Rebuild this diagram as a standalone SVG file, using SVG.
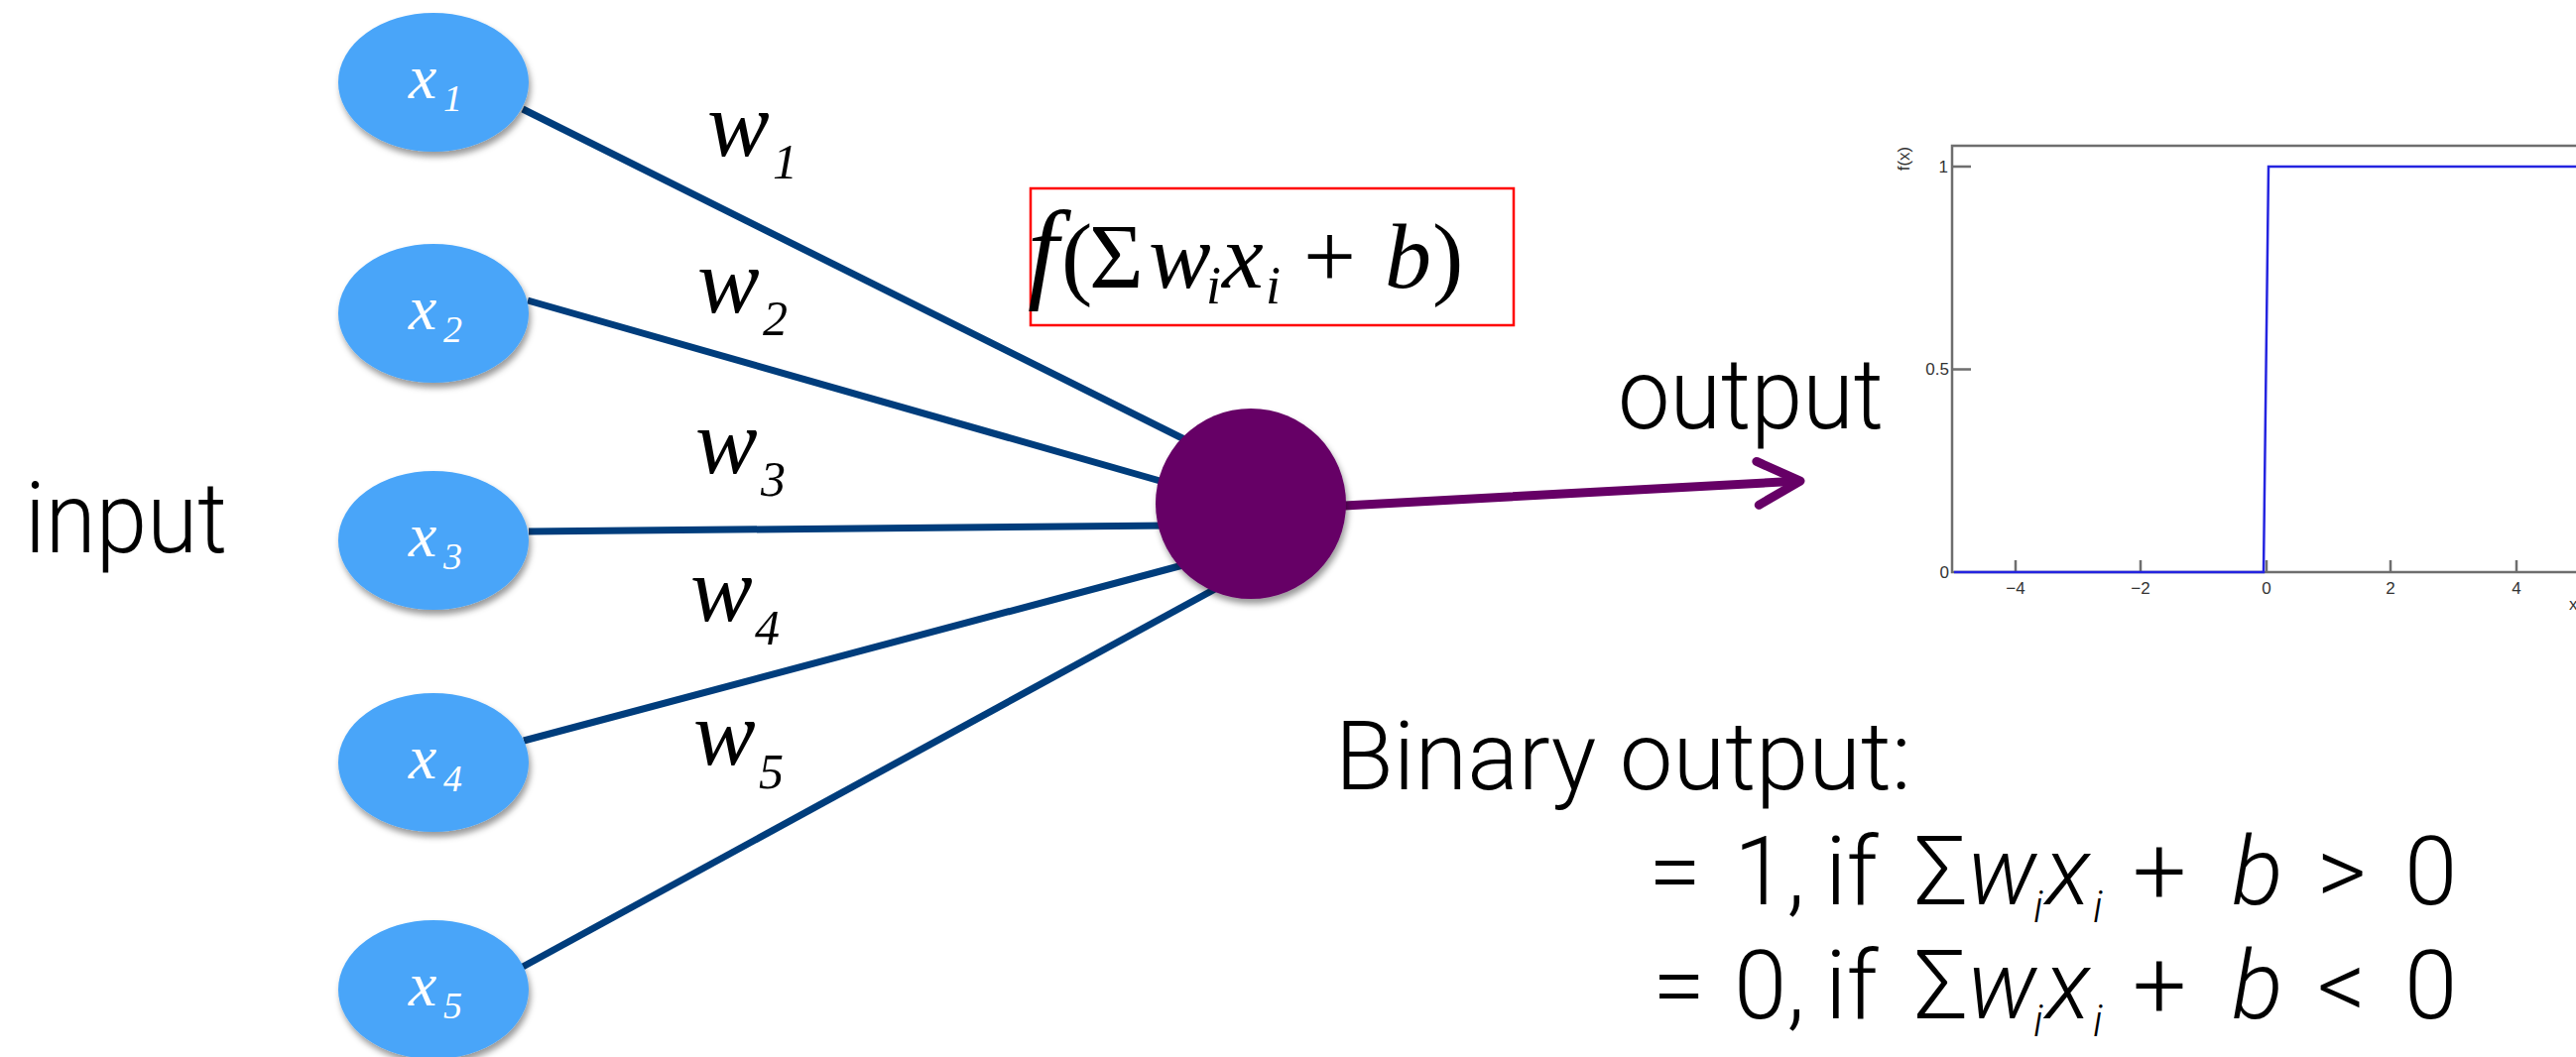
<svg xmlns="http://www.w3.org/2000/svg" width="2597" height="1066" viewBox="0 0 2597 1066">
<style>
.in{fill:#49a5f9;filter:url(#sh)}
.nl{font-family:"Liberation Serif",serif;font-style:italic;fill:#fff;font-size:64px}
.nl .s{font-size:38px}
.w{font-family:"Liberation Serif",serif;font-style:italic;fill:#000;font-size:94px}
.w .s{font-size:50px}
.edge{stroke:#003d7c;stroke-width:7;fill:none}
.out{stroke:#660066;stroke-width:9;fill:none;stroke-linecap:round;stroke-linejoin:round}
.big{font-family:Roboto,"Liberation Sans",sans-serif;font-weight:300;fill:#000;font-size:100px}
.eq{font-family:Roboto,"Liberation Sans",sans-serif;font-weight:300;fill:#000;font-size:96px}
.eq .it{font-style:italic}
.eq .s{font-size:44px;font-style:italic}
.fm{font-family:"Liberation Serif",serif;fill:#000;font-size:94px}
.fm .it{font-style:italic}
.fm .f{font-style:italic;font-size:112px}
.fm .s{font-size:54px;font-style:italic}
.ax{stroke:#6e6e6e;stroke-width:2.5;fill:none}
.tk{font-family:"Liberation Sans",sans-serif;font-size:17px;fill:#333}
</style>
<defs>
<filter id="sh" x="-20%" y="-20%" width="140%" height="150%">
<feDropShadow dx="2" dy="5" stdDeviation="3" flood-color="#000" flood-opacity="0.4"/>
</filter>
<marker id="chev" markerUnits="userSpaceOnUse" markerWidth="100" markerHeight="100" viewBox="-60 -50 100 100" refX="0" refY="0" orient="auto" overflow="visible">
<path d="M -38 -22 L 5 0 L -38 22" stroke="#660066" stroke-width="9" fill="none" stroke-linecap="round" stroke-linejoin="round"/>
</marker>
</defs>
<rect width="2597" height="1066" fill="#fff"/>

<g id="connectors">
<line class="edge" x1="527" y1="110" x2="1200" y2="446"/>
<line class="edge" x1="532" y1="303" x2="1180" y2="488"/>
<line class="edge" x1="533" y1="536" x2="1180" y2="530"/>
<line class="edge" x1="528" y1="747" x2="1200" y2="568"/>
<line class="edge" x1="527" y1="975" x2="1225" y2="594"/>
<line class="out" x1="1300" y1="513" x2="1810" y2="485.3" marker-end="url(#chev)"/>
</g>

<g id="x1"><ellipse class="in" cx="437" cy="83" rx="96" ry="70"/><text class="nl" x="412" y="99">x<tspan class="s" x="447" y="112">1</tspan></text></g>
<g id="x2"><ellipse class="in" cx="437" cy="316" rx="96" ry="70"/><text class="nl" x="412" y="332">x<tspan class="s" x="447" y="345">2</tspan></text></g>
<g id="x3"><ellipse class="in" cx="437" cy="545" rx="96" ry="70"/><text class="nl" x="412" y="561">x<tspan class="s" x="447" y="574">3</tspan></text></g>
<g id="x4"><ellipse class="in" cx="437" cy="769" rx="96" ry="70"/><text class="nl" x="412" y="785">x<tspan class="s" x="447" y="798">4</tspan></text></g>
<g id="x5"><ellipse class="in" cx="437" cy="998" rx="96" ry="70"/><text class="nl" x="412" y="1014">x<tspan class="s" x="447" y="1027">5</tspan></text></g>

<g id="neuron"><circle cx="1261" cy="508" r="96" fill="#660066" filter="url(#sh)"/></g>

<g id="weights">
<text class="w" x="713" y="157">w<tspan class="s" x="779" y="180">1</tspan></text>
<text class="w" x="703" y="315">w<tspan class="s" x="769" y="338">2</tspan></text>
<text class="w" x="701" y="477">w<tspan class="s" x="767" y="500">3</tspan></text>
<text class="w" x="696" y="626">w<tspan class="s" x="761" y="650">4</tspan></text>
<text class="w" x="699" y="771">w<tspan class="s" x="765" y="795">5</tspan></text>
</g>

<g id="formula">
<rect x="1039" y="190" width="487" height="138" fill="none" stroke="#ff0000" stroke-width="2.5"/>
<text class="fm" y="290"><tspan class="f" x="1036">f</tspan><tspan x="1070">(</tspan><tspan x="1098">Σ</tspan><tspan class="it" x="1158">w</tspan><tspan class="s" x="1216" y="306">i</tspan><tspan class="it" x="1232" y="290">x</tspan><tspan class="s" x="1276" y="306">i</tspan><tspan x="1314" y="290">+</tspan><tspan class="it" x="1396">b</tspan><tspan x="1444">)</tspan></text>
</g>

<text id="input-label" class="big" x="25" y="557" textLength="204" lengthAdjust="spacingAndGlyphs">input</text>
<text id="output-label" class="big" x="1631" y="432" textLength="268" lengthAdjust="spacingAndGlyphs">output</text>

<g id="plot">
<path class="ax" d="M 2597 147 L 1968 147 L 1968 577 L 2597 577"/>
<path class="ax" d="M 1968 168 L 1987 168 M 1968 372.5 L 1987 372.5 M 2032 577 L 2032 565 M 2158 577 L 2158 565 M 2285 577 L 2285 565 M 2410 577 L 2410 565 M 2537 577 L 2537 565"/>
<path d="M 1970 577 L 2282 577 L 2287 168 L 2597 168" stroke="#2424e0" stroke-width="2.5" fill="none"/>
<text class="tk" x="1964" y="174" text-anchor="end">1</text>
<text class="tk" x="1965" y="378" text-anchor="end">0.5</text>
<text class="tk" x="1965" y="583" text-anchor="end">0</text>
<text class="tk" x="2032" y="599" text-anchor="middle">−4</text>
<text class="tk" x="2158" y="599" text-anchor="middle">−2</text>
<text class="tk" x="2285" y="599" text-anchor="middle">0</text>
<text class="tk" x="2410" y="599" text-anchor="middle">2</text>
<text class="tk" x="2537" y="599" text-anchor="middle">4</text>
<text class="tk" x="2590" y="615">x</text>
<text class="tk" transform="translate(1925,160) rotate(-90)" text-anchor="middle">f(x)</text>
</g>

<g id="binary">
<text class="eq" x="1346" y="796" textLength="581" lengthAdjust="spacingAndGlyphs">Binary output:</text>
<text class="eq" y="912"><tspan x="1662">=</tspan><tspan x="1748">1,</tspan><tspan x="1840">if</tspan><tspan x="1930">Σ</tspan><tspan class="it" x="1983">w</tspan><tspan class="s" x="2050" y="930">i</tspan><tspan class="it" x="2062" y="912">x</tspan><tspan class="s" x="2110" y="930">i</tspan><tspan x="2150" y="912">+</tspan><tspan class="it" x="2250">b</tspan><tspan x="2336">&gt;</tspan><tspan x="2424">0</tspan></text>
<text class="eq" y="1027"><tspan x="1666">=</tspan><tspan x="1748">0,</tspan><tspan x="1840">if</tspan><tspan x="1930">Σ</tspan><tspan class="it" x="1983">w</tspan><tspan class="s" x="2050" y="1045">i</tspan><tspan class="it" x="2062" y="1027">x</tspan><tspan class="s" x="2110" y="1045">i</tspan><tspan x="2150" y="1027">+</tspan><tspan class="it" x="2250">b</tspan><tspan x="2336">&lt;</tspan><tspan x="2424">0</tspan></text>
</g>
</svg>
